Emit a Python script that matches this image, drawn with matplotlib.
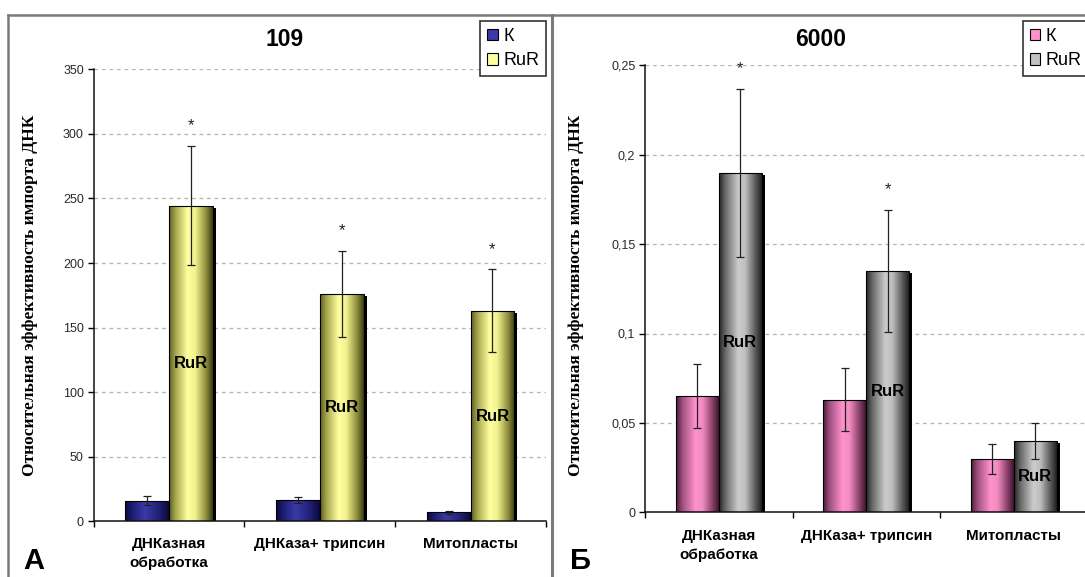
import numpy as np
import matplotlib
matplotlib.use('Agg')
import matplotlib.pyplot as plt
from matplotlib.colors import LinearSegmentedColormap
from matplotlib.patches import Patch
from matplotlib.lines import Line2D
import matplotlib.patheffects as pe

plt.rcParams['font.family'] = ['Liberation Sans', 'DejaVu Sans']

# данные
groups = ['ДНКазная\nобработка', 'ДНКаза+ трипсин', 'Митопласты']
series = ['К', 'RuR']

k_109 = [16.0, 16.5, 7.0]
k_109_err = [3.5, 2.7, 1.3]
rur_109 = [244.5, 176.0, 163.0]
rur_109_err = [46.0, 33.5, 32.0]
star_109 = [True, True, True]

k_6000 = [0.065, 0.063, 0.030]
k_6000_err = [0.018, 0.0175, 0.0083]
rur_6000 = [0.190, 0.135, 0.040]
rur_6000_err = [0.047, 0.034, 0.010]
star_6000 = [True, True, False]

ylabel = 'Относительная эффективность импорта ДНК'

W, H = 1085, 577
fig = plt.figure(figsize=(W / 100, H / 100), dpi=100)


def cmap(stops):
    return LinearSegmentedColormap.from_list('c', stops)


blue = cmap([(0, '#0a0a3a'), (0.15, '#1c1c70'), (0.45, '#3a3aa8'), (0.75, '#22227a'), (1, '#0a0a38')])
yellow = cmap([(0, '#5e5e22'), (0.15, '#a8a850'), (0.42, '#ffffa0'), (0.6, '#f2f28e'), (0.85, '#8c8c3c'), (1, '#3a3a12')])
pink = cmap([(0, '#4a1c36'), (0.15, '#a05080'), (0.45, '#ff92cc'), (0.62, '#f28cc2'), (0.85, '#8a4068'), (1, '#3e1630')])
grey = cmap([(0, '#252525'), (0.15, '#6a6a6a'), (0.45, '#cccccc'), (0.62, '#bdbdbd'), (0.85, '#5a5a5a'), (1, '#202020')])


def shaded_bars(ax, xs, vals, width, cm):
    bars = ax.bar(xs, vals, width, color=cm(0.45), edgecolor='none', zorder=2,
                  path_effects=[pe.SimplePatchShadow(offset=(2.2, -1.5), shadow_rgbFace='black', alpha=1.0),
                                pe.Normal()])
    grad = np.linspace(0, 1, 128).reshape(1, -1)
    for b in bars:
        x0, w, h = b.get_x(), b.get_width(), b.get_height()
        im = ax.imshow(grad, cmap=cm, extent=(x0, x0 + w, 0, h), aspect='auto',
                       interpolation='bilinear', zorder=2.1)
        im.set_clip_path(b)
    ax.bar(xs, vals, width, color='none', edgecolor='black', linewidth=0.8, zorder=2.2)
    return bars


def panel(rect, k, k_err, rur, rur_err, stars, top, step, cmk, cmr, fmt, pad):
    ax = fig.add_axes(rect)
    x = np.arange(len(groups))
    w = 0.29
    shaded_bars(ax, x - w / 2, k, w, cmk)
    shaded_bars(ax, x + w / 2, rur, w, cmr)
    ax.errorbar(x - w / 2, k, yerr=k_err, fmt='none', ecolor='#222222', elinewidth=0.9,
                capsize=3, capthick=0.9, zorder=5)
    ax.errorbar(x + w / 2, rur, yerr=rur_err, fmt='none', ecolor='#222222', elinewidth=0.9,
                capsize=3, capthick=0.9, zorder=5)
    for i in range(len(groups)):
        ax.text(x[i] + w / 2, rur[i] / 2, 'RuR', ha='center', va='center',
                fontsize=12, fontweight='bold', color='black', zorder=6)
        if stars[i]:
            ax.text(x[i] + w / 2, rur[i] + rur_err[i] + 0.045 * top, '*', ha='center',
                    va='center', fontsize=12, color='#222222', zorder=6)
    ax.set_xlim(-0.5, len(groups) - 0.5)
    ax.set_ylim(0, top)
    yt = np.arange(0, top + step / 2, step)
    ax.set_yticks(yt)
    ax.set_yticklabels([fmt(v) for v in yt], fontsize=9, color='#2a2a2a')
    for v in yt[1:]:
        ax.axhline(v, color='#b4b4b4', lw=0.9, ls=(0, (3, 3)), zorder=1)
    ax.set_xticks(np.arange(-0.5, len(groups)))
    ax.set_xticklabels([])
    ax.set_xticks(x, minor=True)
    ax.set_xticklabels(groups, minor=True, fontsize=11, fontweight='bold', linespacing=1.5)
    ax.tick_params(axis='x', which='minor', length=0, pad=pad)
    ax.tick_params(axis='x', which='major', length=4, width=1, direction='out')
    ax.tick_params(axis='y', length=4, width=1, direction='out', pad=3)
    for s in ['top', 'right']:
        ax.spines[s].set_visible(False)
    for s in ['left', 'bottom']:
        ax.spines[s].set_linewidth(1.1)
        ax.spines[s].set_color('#111111')
    ax.set_facecolor('none')
    handles = [Patch(facecolor=cmk(0.45), edgecolor='black', lw=0.8),
               Patch(facecolor=cmr(0.42), edgecolor='black', lw=0.8)]
    return ax, handles


ax1, h1 = panel([93.6 / W, 1 - 521.3 / H, (546 - 93.6) / W, (521.3 - 69.3) / H],
                k_109, k_109_err, rur_109, rur_109_err, star_109, 350, 50,
                blue, yellow, lambda v: '%d' % v, 11)
ax2, h2 = panel([645 / W, 1 - 512.3 / H, 442.5 / W, (512.3 - 65.3) / H],
                k_6000, k_6000_err, rur_6000, rur_6000_err, star_6000, 0.25, 0.05,
                pink, grey, lambda v: ('%g' % round(v, 2)).replace('.', ','), 12)

# заголовки
fig.text(285 / W, 1 - 40 / H, '109', ha='center', va='center', fontsize=16.5, fontweight='bold')
fig.text(821 / W, 1 - 40 / H, '6000', ha='center', va='center', fontsize=16.5, fontweight='bold')

for ax, hd, anchor, loc in [(ax1, h1, (546 / W, 1 - 21 / H), 'upper right'),
                            (ax2, h2, (1022.7 / W, 1 - 21 / H), 'upper left')]:
    leg = ax.legend(hd, series, loc=loc, bbox_to_anchor=anchor, bbox_transform=fig.transFigure,
                    borderaxespad=0, fontsize=13, handlelength=0.6, handleheight=0.6,
                    handletextpad=0.3, labelspacing=0.42, borderpad=0.38, fancybox=False,
                    framealpha=1, edgecolor='#333333')
    leg.get_frame().set_linewidth(1.2)

# подписи осей и букв
for xc in [30, 576]:
    fig.text(xc / W, 1 - 295 / H, ylabel, rotation=90, ha='center', va='center',
             fontsize=12.5, fontweight='bold', family=['Liberation Serif', 'DejaVu Serif'])
fig.text(34 / W, 1 - 561 / H, 'А', ha='center', va='center', fontsize=21, fontweight='bold')
fig.text(581 / W, 1 - 561 / H, 'Б', ha='center', va='center', fontsize=21, fontweight='bold')

# рамки
fig.add_artist(Line2D([8 / W, 1], [1 - 15 / H, 1 - 15 / H], color='#7a7a7a', lw=1.8))
fig.add_artist(Line2D([8 / W, 8 / W], [0, 1 - 15 / H], color='#7a7a7a', lw=1.8))
fig.add_artist(Line2D([552 / W, 552 / W], [0, 1 - 15 / H], color='#7a7a7a', lw=2.2))

fig.savefig('out.png', dpi=100)
